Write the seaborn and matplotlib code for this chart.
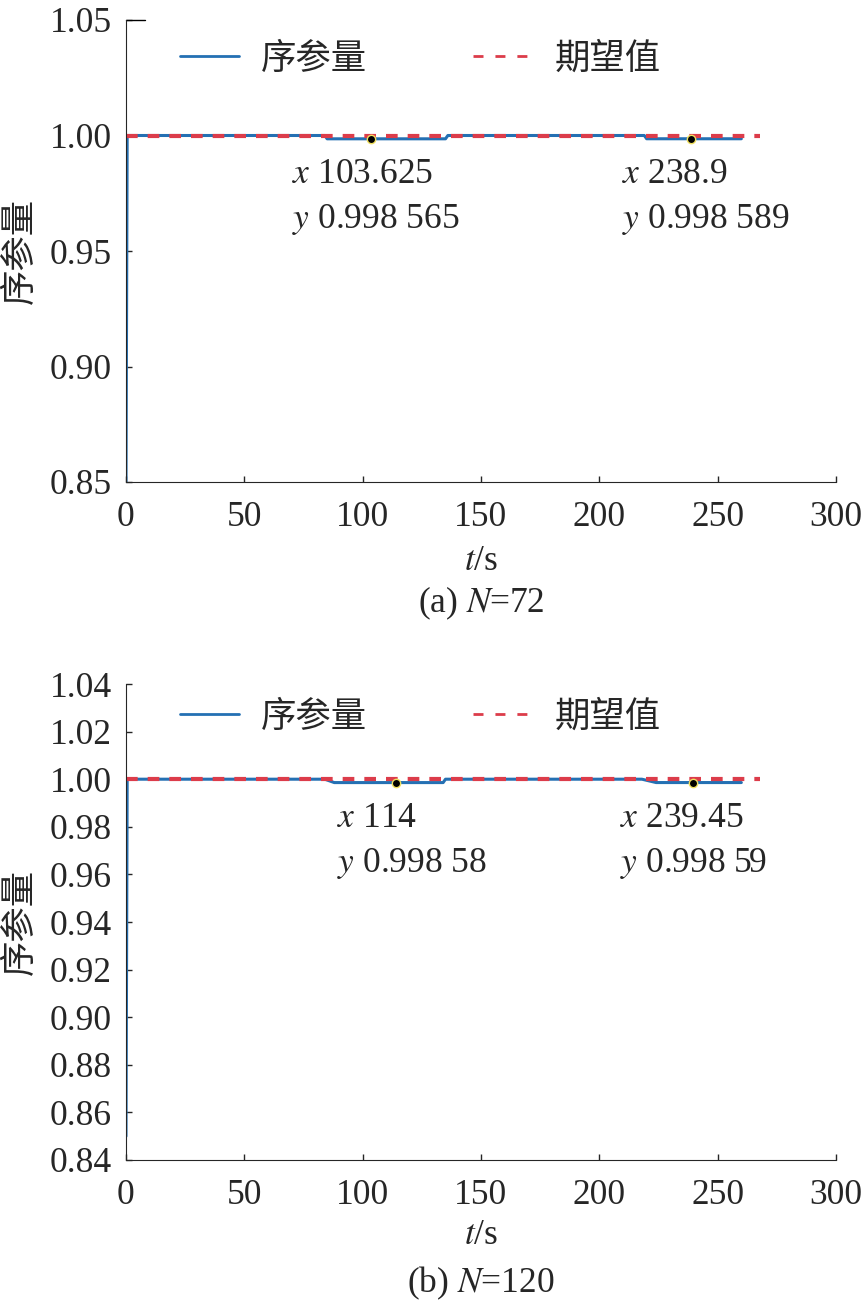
import matplotlib
matplotlib.use("Agg")
import matplotlib.pyplot as plt
import seaborn as sns
import pandas as pd

# panel (a) N=72
t_a = [0, 0.5, 84, 85, 135, 136, 219, 220, 260]
order_a = [0.85, 1.0, 1.0, 0.998565, 0.998565, 1.0, 1.0, 0.998589, 0.998589]
tips_a = [(103.625, 0.998565, "103.625", "0.998 565"), (238.9, 0.998589, "238.9", "0.998 589")]

# panel (b) N=120
t_b = [0, 0.5, 84, 88, 134, 135, 218, 224, 260]
order_b = [0.85, 1.0, 1.0, 0.99858, 0.99858, 1.0, 1.0, 0.99859, 0.99859]
tips_b = [(114, 0.99858, "114", "0.998 58"), (239.45, 0.99859, "239.45", "0.998 59")]

t_expect = [0, 268]
expect = [1.0, 1.0]

xticks = [0, 50, 100, 150, 200, 250, 300]
yticks_a = [0.85, 0.90, 0.95, 1.00, 1.05]
yticks_b = [0.84, 0.86, 0.88, 0.90, 0.92, 0.94, 0.96, 0.98, 1.00, 1.02, 1.04]

sns.set_style("ticks")
plt.rcParams['font.family'] = ['Liberation Serif', 'Noto Sans CJK SC']
plt.rcParams['mathtext.fontset'] = 'stix'
plt.rcParams['font.size'] = 25.5

blue = '#2470b3'
red = '#dc3c4a'

fig = plt.figure(figsize=(8.66, 13.1), dpi=100)
ax_a = fig.add_axes([126/866, 1-482/1310, 710/866, 462/1310])
ax_b = fig.add_axes([126/866, 1-1160/1310, 710/866, 476/1310])


def draw_panel(ax, t, y, yticks, tips, caption, leg_y, xlab_y, cap_y, tip_dx):
    df = pd.DataFrame({'t': t, 'y': y})
    sns.lineplot(data=df, x='t', y='y', ax=ax, color=blue, lw=2.2,
                 sort=False, estimator=None, label='序参量')
    ex = pd.DataFrame({'t': t_expect, 'y': expect})
    sns.lineplot(data=ex, x='t', y='y', ax=ax, color=red, lw=3,
                 linestyle=(0, (2.8, 2.4)), estimator=None, label='期望值')
    for (tx, ty, xs, ys), dx in zip(tips, tip_dx):
        ax.plot([tx], [ty], 'o', ms=6, mfc='black', mec='#f0e060', mew=1, zorder=5)
        ax.annotate("$x$ " + xs + "\n$y$ " + ys, (tx, ty), xytext=(dx, -14),
                    textcoords='offset points', ha='left', va='top',
                    linespacing=1.42)
    ax.set_xlim(0, 300)
    ax.set_ylim(yticks[0], yticks[-1])
    ax.set_xticks(xticks)
    ax.set_yticks(yticks)
    ax.set_yticklabels([f"{v:.2f}" for v in yticks])
    ax.tick_params(direction='in', length=4.5, width=1, labelsize=25.5)
    ax.tick_params(axis='x', pad=14)
    ax.tick_params(axis='y', pad=10)
    sns.despine(ax=ax)
    ax.set_xlabel("$t$/s")
    ax.xaxis.set_label_coords(0.5, xlab_y)
    ax.xaxis.label.set_va('center')
    ax.set_ylabel("序参量")
    ax.yaxis.set_label_coords(-0.124, 0.5)
    ax.text(0.5, cap_y, caption, transform=ax.transAxes, ha='center', va='center')
    leg = ax.legend(loc='center left', bbox_to_anchor=(0.076, leg_y), ncol=2, frameon=False,
                    borderaxespad=0, borderpad=0, handlelength=1.67, handletextpad=0.62,
                    columnspacing=3.0)
    for ln in leg.get_lines():
        ln.set_linewidth(2)
    leg.get_lines()[1].set_linestyle((0, (3.6, 4.3)))


draw_panel(ax_a, t_a, order_a, yticks_a, tips_a, "(a) $N$=72", 1-40/462, -80/462, -121/462,
           [-57, -50])
draw_panel(ax_b, t_b, order_b, yticks_b, tips_b, "(b) $N$=120", 1-34/476, -76/476, -123/476,
           [-42, -52])
# short stub at the top of the left axis in panel (a)
ax_a.plot([0, 0.027], [1, 1], transform=ax_a.transAxes, color='black', lw=1, clip_on=False)

fig.savefig("out.png", dpi=100)
